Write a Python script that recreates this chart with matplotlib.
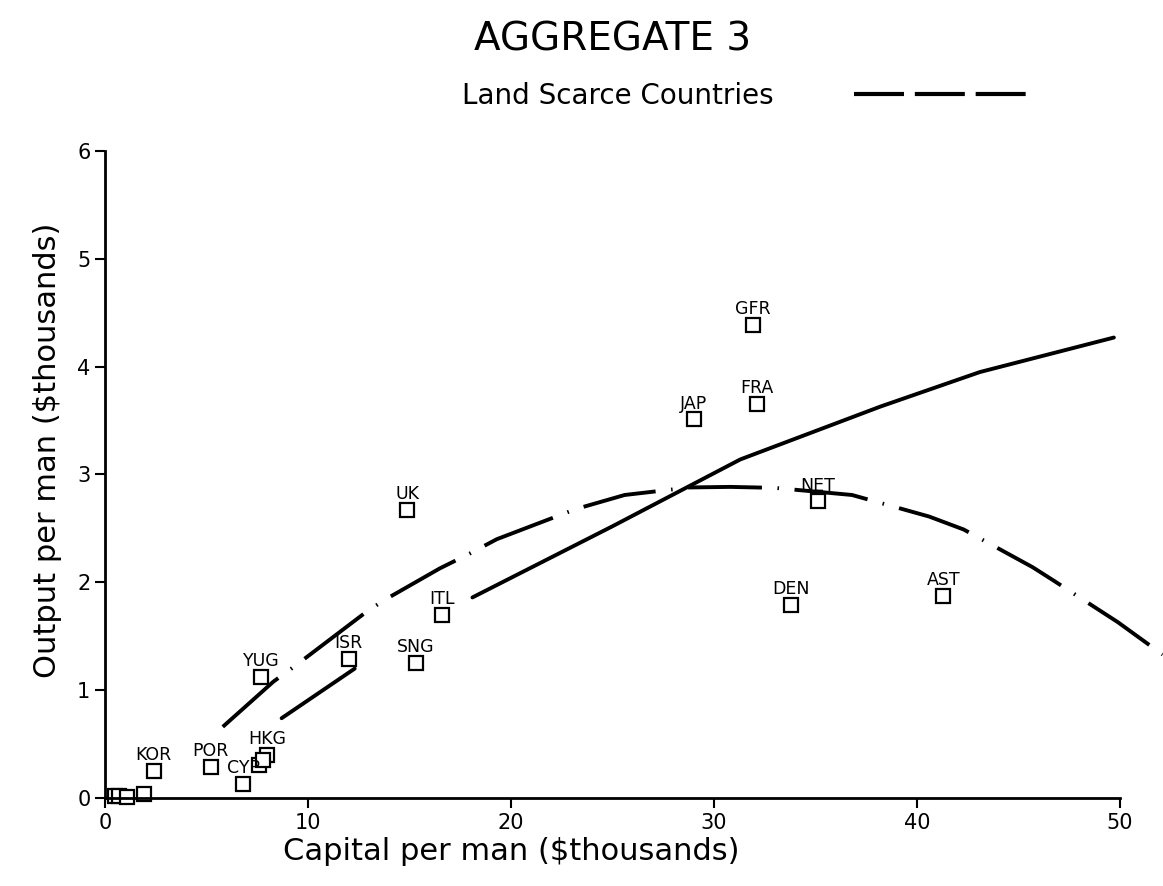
import matplotlib.pyplot as plt
from matplotlib.lines import Line2D
import numpy as np

# punkty krajow (kapital na pracownika, produkt na pracownika, w tys. $)
kraje = ['KOR', 'POR', 'CYP', 'HKG', 'YUG', 'ISR', 'SNG', 'ITL', 'UK',
         'JAP', 'GFR', 'FRA', 'NET', 'DEN', 'AST']
kap = [2.4, 5.2, 6.8, 8.0, 7.7, 12.0, 15.3, 16.6, 14.9,
       29.0, 31.9, 32.1, 35.1, 33.8, 41.3]
prod = [0.25, 0.29, 0.13, 0.40, 1.12, 1.29, 1.25, 1.70, 2.67,
        3.51, 4.39, 3.65, 2.75, 1.79, 1.87]

# punkty bez etykiet (przy zerze i obok HKG)
kap_bez = [0.5, 0.7, 1.1, 1.9, 7.6, 7.8]
prod_bez = [0.02, 0.02, 0.01, 0.04, 0.31, 0.35]

# krzywa ciagla (NaN = przerwa)
sol_x = [8.7, 12.3, np.nan, 18.1, 25.0, 31.3, 38.2, 43.1, 49.7]
sol_y = [0.74, 1.20, np.nan, 1.86, 2.52, 3.14, 3.63, 3.95, 4.27]

# krzywa przerywana - Land Scarce Countries
dash_x = [5.8, 8.3, 9.4, 12.9, 13.8, 16.5, 18.0, 19.3, 23.2, 25.6, 28.8,
          30.8, 33.0, 36.8, 40.6, 42.3, 45.7, 46.7, 49.9, 52.1]
dash_y = [0.66, 1.08, 1.23, 1.73, 1.84, 2.13, 2.27, 2.40, 2.68, 2.81, 2.88,
          2.885, 2.876, 2.81, 2.61, 2.49, 2.14, 2.02, 1.63, 1.33]

fig = plt.figure(figsize=(11.63, 8.86), dpi=100)
ax = fig.add_axes([0.0903, 0.0993, 0.8727, 0.7303])

# kwadraty
ax.plot(kap, prod, 's', ms=10.5, mfc='white', mec='black', mew=1.6, clip_on=False)
ax.plot(kap_bez, prod_bez, 's', ms=10.5, mfc='white', mec='black', mew=1.6, clip_on=False)
for n, x, y in zip(kraje, kap, prod):
    ax.annotate(n, (x, y), xytext=(0, 5), textcoords='offset points',
                ha='center', va='bottom', fontsize=12.5)

# krzywe
ax.plot(sol_x, sol_y, color='black', lw=2.8, solid_capstyle='round')
ax.plot(dash_x, dash_y, color='black', lw=2.8, clip_on=False,
        linestyle=(0, (19, 4, 0.4, 4)), dash_capstyle='butt')

ax.set_xlim(0, 50)
ax.set_ylim(0, 6)
ax.set_xticks([0, 10, 20, 30, 40, 50])
ax.set_yticks([0, 1, 2, 3, 4, 5, 6])
ax.tick_params(labelsize=15, length=7, width=1.5)
for s in ['top', 'right']:
    ax.spines[s].set_visible(False)
for s in ['left', 'bottom']:
    ax.spines[s].set_linewidth(2)

ax.set_xlabel('Capital per man ($thousands)', fontsize=22)
ax.xaxis.set_label_coords(0.40, -0.060)
ax.set_ylabel('Output per man ($thousands)', fontsize=22)
ax.yaxis.set_label_coords(-0.042, 0.538)

# tytul i legenda
fig.text(0.527, 0.955, 'AGGREGATE 3', ha='center', va='center', fontsize=28)
proxy = Line2D([], [], color='black', lw=3, linestyle=(0, (12, 2.6)))
fig.legend(handles=[proxy], labels=['Land Scarce Countries'], loc='center',
           bbox_to_anchor=(0.640, 0.892), frameon=False, markerfirst=False,
           handlelength=6.2, handletextpad=2.9, fontsize=20)

plt.savefig('out.png', dpi=100)
plt.close()
